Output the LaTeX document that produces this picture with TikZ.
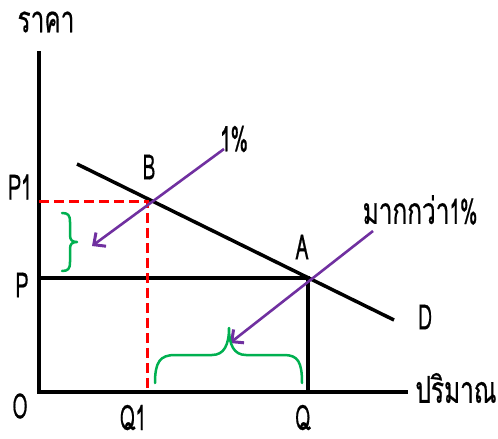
\documentclass[tikz,border=0pt]{standalone}
\usepackage{fontspec}
\newfontfamily\thaifont[Script=Thai,FakeStretch=0.66,FakeBold=0.5]{Loma}
\newfontfamily\latfont[FakeStretch=0.55,FakeBold=0.5]{Loma}
\usetikzlibrary{arrows.meta}
\definecolor{myPurple}{RGB}{112,48,160}
\definecolor{myGreen}{RGB}{0,176,80}
\begin{document}
\begin{tikzpicture}[x=1pt,y=-1pt,
  lbl/.style={font=\latfont\fontsize{35}{35}\selectfont, inner sep=0pt},
  thlbl/.style={font=\thaifont\fontsize{37}{37}\selectfont, inner sep=0pt},
  axisline/.style={line width=3.5pt},
  blackline/.style={line width=3.5pt},
  guide/.style={red, line width=3pt, dash pattern=on 10pt off 5pt},
  pline/.style={myPurple, line width=2.6pt, -{Straight Barb[length=9pt,width=17pt,line width=3pt]}},
  bracestyle/.style={myGreen, line width=2.5pt, line cap=round, line join=round}]
\useasboundingbox (0,0) rectangle (498,439);
% points
\coordinate (O) at (39,392);
\coordinate (ytop) at (39,51);
\coordinate (xend) at (408,392);
\coordinate (Dstart) at (77,164);
\coordinate (Dend) at (394,320);
\coordinate (Pl) at (39,278);
\coordinate (A) at (308,278);
\coordinate (Aq) at (308,392);
\coordinate (P1l) at (39,201);
\coordinate (Bc) at (147,201);
\coordinate (Q1b) at (147,392);
\coordinate (s1) at (224,149);
\coordinate (t1) at (92,246);
\coordinate (s2) at (373,231);
\coordinate (t2) at (230,343);
% axes
\draw[axisline] (ytop) -- (O) -- (xend);
% lines
\draw[blackline] (Pl) -- (A) -- (Aq);
\draw[blackline] (Dstart) -- (Dend);
\draw[guide] (P1l) -- (Bc) -- (Q1b);
% purple arrows
\draw[pline] (s1) -- (t1);
\draw[pline] (s2) -- (t2);
% braces
\draw[bracestyle] (62,213) .. controls (68,213) and (70,215) .. (70,222) -- (70,235) .. controls (70,240) and (72,242) .. (77,242)
  .. controls (72,242) and (70,244) .. (70,249) -- (70,262) .. controls (70,269) and (68,271) .. (62,271);
\draw[bracestyle] (155,383) .. controls (155,362) and (160,355) .. (175,355) -- (212,355) .. controls (224,355) and (229,345) .. (229,328)
  .. controls (229,345) and (234,355) .. (246,355) -- (284,355) .. controls (298,355) and (302,362) .. (302,383);
% labels
\node[thlbl] (lprice) at (46,22) {ราคา};
\node[thlbl] (lqty) at (456,388) {ปริมาณ};
\node[lbl] (lO) at (20,406) {O};
\node[lbl] (lP1) at (20,187) {P1};
\node[lbl] (lP) at (22,285) {P};
\node[lbl, anchor=base, text depth=0pt] (lQ1) at (133,430) {Q1};
\node[lbl, anchor=base, text depth=0pt] (lQ) at (303,430) {Q};
\node[lbl] (lB) at (149,167) {B};
\node[lbl] (lA) at (302,247) {A};
\node[lbl] (lD) at (425,317) {D};
\node[lbl] (l1) at (234,139) {1\%};
\node[thlbl] (lmore) at (420,210) {มากกว่า{\latfont\fontsize{35}{35}\selectfont 1\%}};
\end{tikzpicture}
\end{document}
